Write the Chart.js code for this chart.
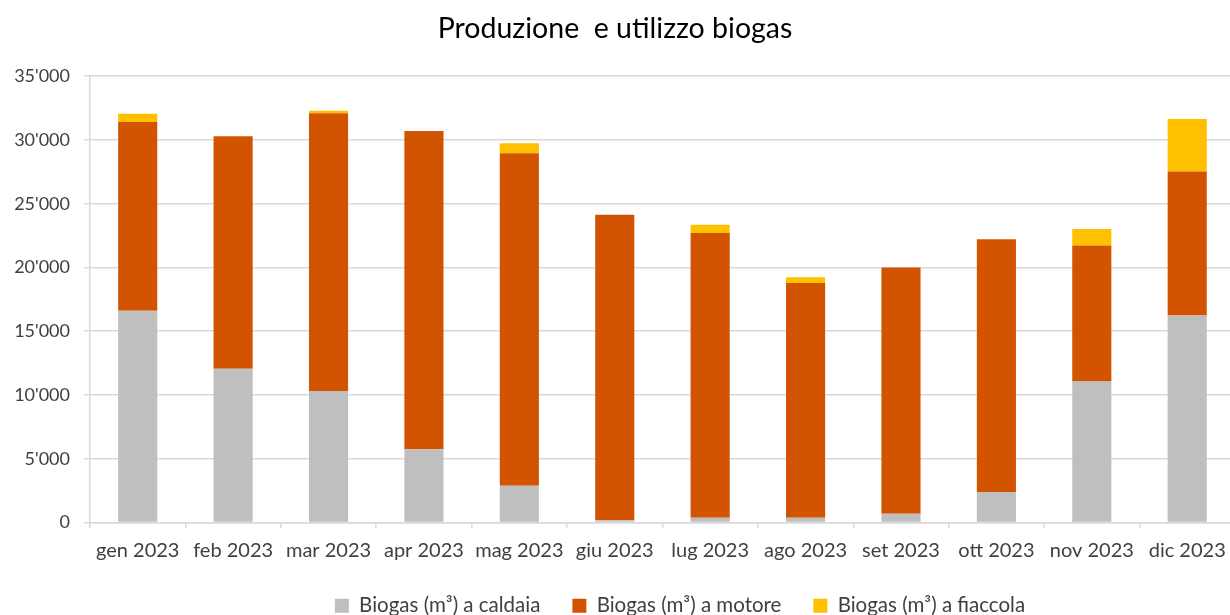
<!DOCTYPE html>
<html>
<head>
<meta charset="utf-8">
<script src="https://cdn.jsdelivr.net/npm/chart.js@4.4.1/dist/chart.umd.min.js"></script>
<style>
  html, body { margin: 0; padding: 0; background: #ffffff; }
  #wrap { width: 1230px; height: 615px; }
</style>
</head>
<body>
<div id="wrap"><canvas id="chart" width="1230" height="615"></canvas></div>
<script>
// Monthly biogas use (m³), split by destination
const months = ['gen 2023', 'feb 2023', 'mar 2023', 'apr 2023', 'mag 2023', 'giu 2023',
                'lug 2023', 'ago 2023', 'set 2023', 'ott 2023', 'nov 2023', 'dic 2023'];
const caldaia  = [16600, 12050, 10320, 5740, 2880, 180, 370, 370, 680, 2400, 11060, 16230];
const motore   = [14800, 18250, 21780, 24960, 26080, 23960, 22330, 18410, 19320, 19820, 10670, 11290];
const fiaccola = [650, 0, 200, 0, 780, 0, 650, 450, 0, 0, 1280, 4120];
const yTicks   = [0, 5000, 10000, 15000, 20000, 25000, 30000, 35000];

const FONT = 'Lato, "Open Sans", sans-serif';
const TEXT = '#404040';
const GRID = '#d9d9d9';

// thousands separated by an apostrophe, e.g. 35'000
function fmt(v) {
  return String(Math.round(v)).replace(/\B(?=(\d{3})+(?!\d))/g, "'");
}

// lets the plot run slightly past the right edge and nudges the legend row right
const layoutTweaks = {
  id: 'layoutTweaks',
  afterLayout(chart) {
    const extra = 6;
    const x = chart.scales.x;
    chart.chartArea.right += extra;
    chart.chartArea.width += extra;
    x.right += extra;
    x.width += extra;
    x.configure();
    if (chart.legend) chart.legend.left += 130;
  }
};

new Chart(document.getElementById('chart'), {
  type: 'bar',
  data: {
    labels: months,
    datasets: [
      { label: 'Biogas (m³) a caldaia',  data: caldaia,  backgroundColor: '#bfbfbf' },
      { label: 'Biogas (m³) a motore',   data: motore,   backgroundColor: '#d35400' },
      { label: 'Biogas (m³) a fiaccola', data: fiaccola, backgroundColor: '#ffc000' }
    ]
  },
  plugins: [layoutTweaks],
  options: {
    responsive: false,
    animation: false,
    layout: { padding: { left: 0, right: 0, top: 0, bottom: -11 } },
    datasets: {
      bar: { categoryPercentage: 1.0, barPercentage: 0.41, borderWidth: 0 }
    },
    plugins: {
      title: {
        display: true,
        text: 'Produzione  e utilizzo biogas',
        color: '#000000',
        font: { family: FONT, size: 28.5, weight: 'normal' },
        padding: { top: 12, bottom: 30 }
      },
      legend: {
        position: 'bottom',
        labels: {
          color: TEXT,
          font: { family: FONT, size: 20.5 },
          boxWidth: 14,
          boxHeight: 14,
          padding: 32
        }
      },
      tooltip: { enabled: false }
    },
    scales: {
      x: {
        stacked: true,
        afterFit: (scale) => { scale.height = 41; },
        grid: { drawOnChartArea: false, drawTicks: true, tickLength: 6, color: GRID, lineWidth: 1.5 },
        border: { color: GRID, width: 1.5 },
        ticks: { color: TEXT, font: { family: FONT, size: 20 }, padding: 10, maxRotation: 0 }
      },
      y: {
        stacked: true,
        min: 0,
        max: 35000,
        afterFit: (scale) => { scale.width = 90; },
        afterBuildTicks: (axis) => { axis.ticks = yTicks.map(v => ({ value: v })); },
        grid: { color: GRID, lineWidth: 1.5, tickLength: 6 },
        border: { color: GRID, width: 1.5 },
        ticks: {
          color: TEXT,
          font: { family: FONT, size: 18 },
          padding: 14,
          callback: (v) => fmt(v)
        }
      }
    }
  }
});
</script>
</body>
</html>
